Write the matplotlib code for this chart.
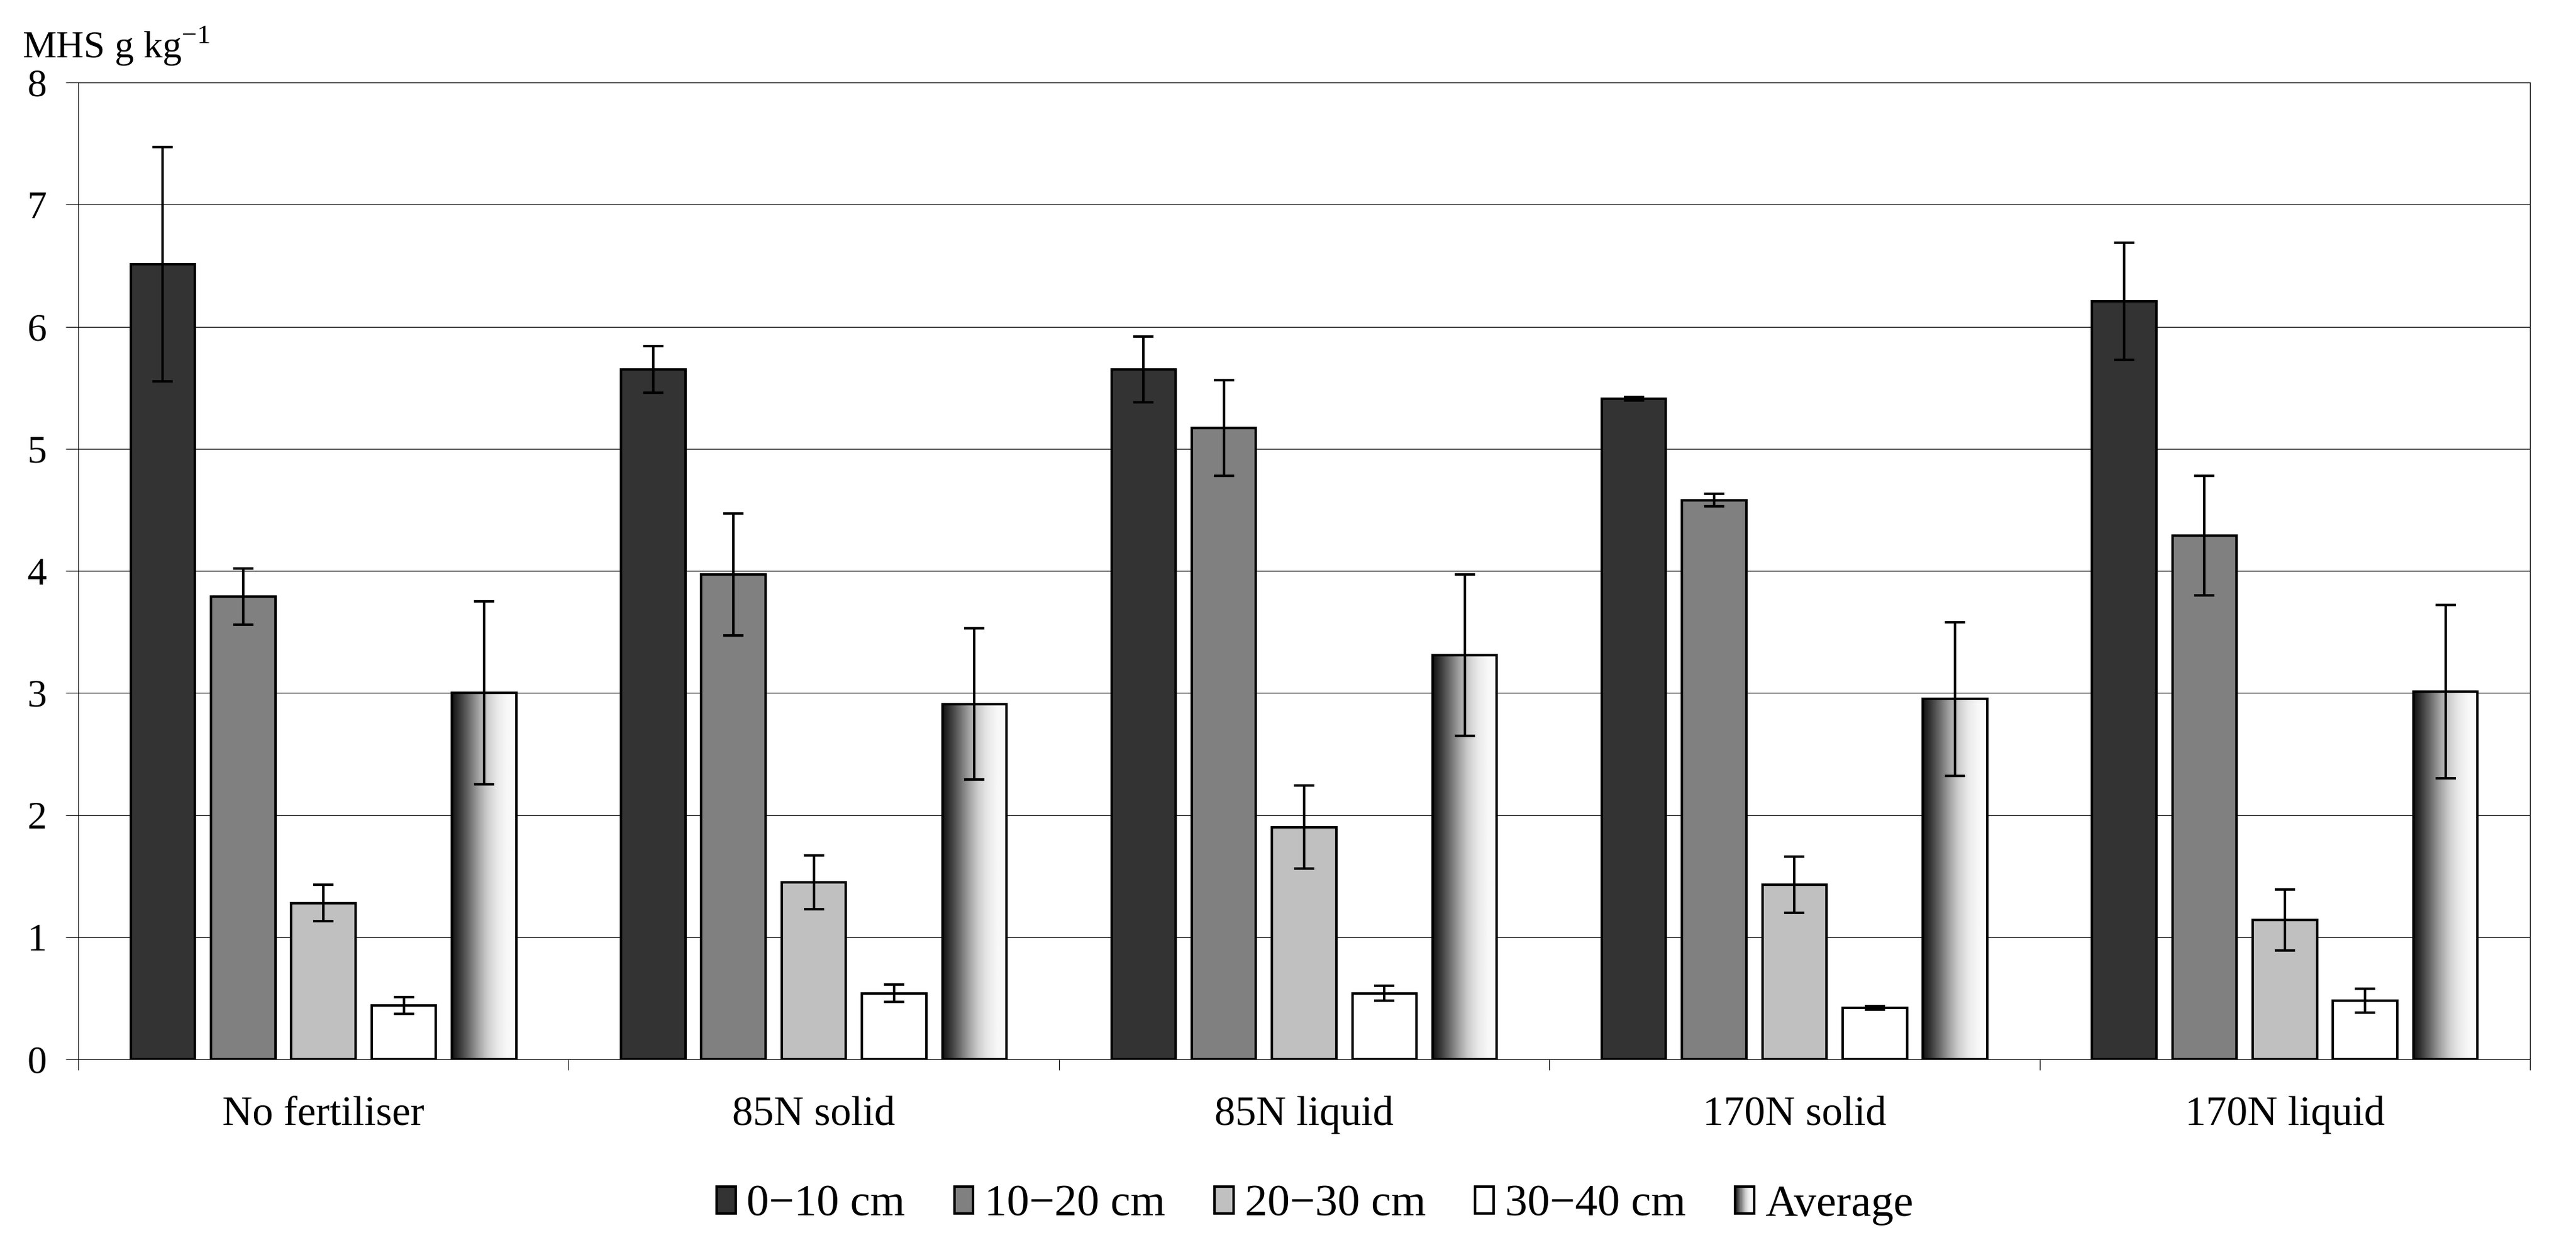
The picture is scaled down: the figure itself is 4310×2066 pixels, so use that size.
import numpy as np
import matplotlib
matplotlib.use('Agg')
import matplotlib.pyplot as plt
from matplotlib.patches import Patch, Rectangle
from matplotlib.legend_handler import HandlerBase

plt.rcParams['font.family'] = ['Liberation Serif', 'DejaVu Serif']
plt.rcParams['mathtext.fontset'] = 'custom'
plt.rcParams['mathtext.rm'] = 'Liberation Serif'

# ============================================================
# Dados
# ============================================================
groups = ["No fertiliser", "85N solid", "85N liquid", "170N solid", "170N liquid"]
series = ["0\u221210 cm", "10\u221220 cm", "20\u221230 cm", "30\u221240 cm", "Average"]

d_0_10 = [6.51, 5.65, 5.65, 5.41, 6.21]
e_0_10 = [0.96, 0.19, 0.27, 0.015, 0.48]
d_10_20 = [3.79, 3.97, 5.17, 4.58, 4.29]
e_10_20 = [0.23, 0.50, 0.39, 0.05, 0.49]
d_20_30 = [1.28, 1.45, 1.90, 1.43, 1.14]
e_20_30 = [0.15, 0.22, 0.34, 0.23, 0.25]
d_30_40 = [0.44, 0.54, 0.54, 0.42, 0.48]
e_30_40 = [0.07, 0.07, 0.06, 0.015, 0.10]
d_avg = [3.00, 2.91, 3.31, 2.95, 3.01]
e_avg = [0.75, 0.62, 0.66, 0.63, 0.71]

values = [d_0_10, d_10_20, d_20_30, d_30_40, d_avg]
errors = [e_0_10, e_10_20, e_20_30, e_30_40, e_avg]
colors = ['#333333', '#808080', '#c0c0c0', '#ffffff', None]

# gradiente da barra "Average" (preto -> branco)
grad_pos = [0.0, 0.05, 0.12, 0.25, 0.40, 0.55, 0.70, 0.85, 1.0]
grad_val = [0.07, 0.13, 0.22, 0.40, 0.62, 0.80, 0.91, 0.97, 0.98]

def grad_at(t):
    return float(np.interp(t, grad_pos, grad_val))

# ============================================================
# Figura
# ============================================================
fig = plt.figure(figsize=(43.1, 20.66), dpi=100)
ax = fig.add_axes([131 / 4310, (2066 - 1772) / 2066, (4233 - 131) / 4310, (1772 - 138) / 2066])

x = np.arange(len(groups))
step = 0.1638
width = 0.131
edge_lw = 3.0

for i, (vals, errs, col) in enumerate(zip(values, errors, colors)):
    pos = x + (i - 2) * step
    if col is not None:
        ax.bar(pos, vals, width, color=col, edgecolor='black', linewidth=edge_lw, zorder=3)
    else:
        bars = ax.bar(pos, vals, width, facecolor='none', edgecolor='black', linewidth=edge_lw, zorder=3)
        tt = np.linspace(0, 1, 256)
        img = np.array([[grad_at(t) for t in tt]])
        for b in bars:
            x0 = b.get_x()
            im = ax.imshow(img, cmap='gray', vmin=0, vmax=1, aspect='auto',
                           extent=(x0, x0 + b.get_width(), 0, b.get_height()),
                           interpolation='bilinear', zorder=2.5)
            im.set_clip_path(b)
    ax.errorbar(pos, vals, yerr=errs, fmt='none', ecolor='black', elinewidth=3.0,
                capsize=12.5, capthick=3.0, zorder=4)

ax.set_xlim(-0.5, len(groups) - 0.5)
ax.set_ylim(0, 8)
ax.set_yticks(range(0, 9))
ax.grid(axis='y', color='black', linewidth=0.9)
ax.set_axisbelow(True)

ax.set_xticks(x)
ax.set_xticklabels(groups, fontsize=50)
ax.set_xticks(np.arange(-0.5, len(groups)), minor=True)
ax.tick_params(axis='x', which='major', length=0, pad=44)
ax.tick_params(axis='x', which='minor', length=13, width=0.9, direction='out')
ax.tick_params(axis='y', labelsize=47, length=15, width=0.9, pad=23, direction='out')

for s in ax.spines.values():
    s.set_linewidth(0.9)

fig.text(37 / 4310, 1 - 97 / 2066, r'MHS g kg$^{\mathregular{-1}}$', fontsize=46,
         ha='left', va='baseline')

# ============================================================
# Legenda
# ============================================================
class GradHandler(HandlerBase):
    def create_artists(self, legend, orig_handle, xdescent, ydescent, width, height, fontsize, trans):
        arts = []
        n = 30
        for k in range(n):
            c = grad_at((k + 0.5) / n)
            arts.append(Rectangle((-xdescent + k * width / n, -ydescent), width / n, height,
                                  facecolor=str(c), edgecolor='none', transform=trans))
        arts.append(Rectangle((-xdescent, -ydescent), width, height, facecolor='none',
                              edgecolor='black', linewidth=3, transform=trans))
        return arts

handles = [Patch(facecolor=c, edgecolor='black', linewidth=3) for c in colors[:4]]
avg_handle = Patch(facecolor='white', edgecolor='black')
handles.append(avg_handle)

fig.legend(handles, series, loc='center', bbox_to_anchor=(0.5105, 1 - 2016 / 2066),
           ncol=5, frameon=False, fontsize=54, handlelength=0.42, handleheight=0.55,
           handletextpad=0.25, columnspacing=1.1, handler_map={avg_handle: GradHandler()})

fig.savefig('out.png', dpi=100)
plt.close(fig)
